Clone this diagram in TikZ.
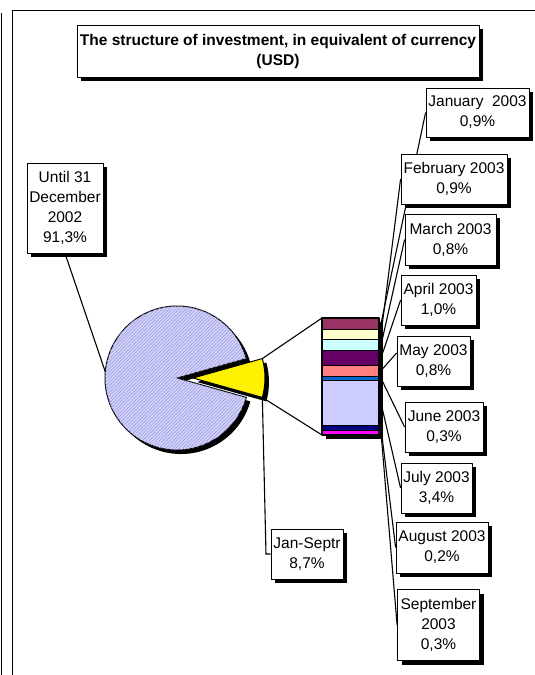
\documentclass[tikz,border=0pt]{standalone}
\usepackage{fontspec}
\setmainfont{Liberation Sans}
\usetikzlibrary{shadows,patterns.meta,backgrounds}
\definecolor{janc}{HTML}{993366}
\definecolor{febc}{HTML}{FFFFCC}
\definecolor{marc}{HTML}{CCFFFF}
\definecolor{aprc}{HTML}{660066}
\definecolor{mayc}{HTML}{FF8080}
\definecolor{junc}{HTML}{0066CC}
\definecolor{julc}{HTML}{CCCCFF}
\definecolor{augc}{HTML}{000080}
\definecolor{sepc}{HTML}{FF00FF}
\definecolor{piec}{HTML}{D4D4F6}
\definecolor{hatchc}{HTML}{9C9CE8}
\newcommand{\lblfont}{\fontsize{15.5}{20}\selectfont}
\begin{document}
\begin{tikzpicture}[x=1pt,y=-1pt,line join=round,line width=0.8pt,
	lbl/.style={draw,fill=white,align=center,inner sep=0pt,font=\lblfont,
		drop shadow={shadow xshift=4pt,shadow yshift=-4pt,opacity=1,fill=black}},
	piece/.style={draw,line width=1pt},
	leader/.style={draw,line width=1.1pt}]
	\useasboundingbox (0,0) rectangle (535,675);
	% Khung
	\draw (1.5,13) -- (1.5,675);
	\draw (12.5,675) -- (12.5,10.5) -- (535,10.5);
	% Bong cua hinh tron
	\begin{scope}[shift={(4,4)}]
		\fill (177,378) -- ++(15.65:72) arc[start angle=15.65,end angle=344.35,radius=72] -- cycle;
		\fill (193,378) -- ++(-15.65:72) arc[start angle=-15.65,end angle=15.65,radius=72] -- cycle;
	\end{scope}
	% Hinh tron
	\draw[piece,fill=piec,postaction={pattern={Lines[angle=45,distance=2.4pt,line width=0.6pt]},pattern color=hatchc}]
		(177,378) -- ++(15.65:72) arc[start angle=15.65,end angle=344.35,radius=72] -- cycle;
	\draw[piece,fill=yellow] (193,378) -- ++(-15.65:72) arc[start angle=-15.65,end angle=15.65,radius=72] -- cycle;
	\path (193,378) ++(-15.65:72) coordinate (ytop);
	\path (193,378) ++(15.65:72) coordinate (ybot);
	\path (177,378) ++(185:72) coordinate (pieleft);
	% Cot
	\fill (326,322) rectangle (383,439);
	\foreach \ya/\yb/\c [count=\n] in {318/329/janc,329/339.7/febc,339.7/350.7/marc,350.7/365/aprc,
		365/376.3/mayc,376.3/380.3/junc,380.3/425.7/julc,425.7/430/augc,430/435/sepc}
	{
		\draw[fill=\c] (322,\ya) rectangle (379,\yb);
		\coordinate (seg\n) at (381,{(\ya+\yb)/2});
	}
	\draw[line width=1.2pt] (322,318) coordinate (bartl) rectangle (379,435);
	\coordinate (barbl) at (322,435);
	\draw[leader] (ytop) -- (bartl);
	\draw[leader] (ybot) -- (barbl);
	% Nhan
	\node[lbl,font=\lblfont\bfseries,minimum width=402,minimum height=52] (title) at (278,51)
		{The structure of investment, in equivalent of currency\\(USD)};
	\node[lbl,minimum width=76,minimum height=90] (until) at (65,208) {Until 31\\December\\2002\\91,3\%};
	\node[lbl,minimum width=72,minimum height=50] (jansep) at (307,554) {Jan-Septr\\8,7\%};
	\node[lbl,minimum width=103,minimum height=49] (jan) at (477.5,112.5) {January\ \ 2003\\0,9\%};
	\node[lbl,minimum width=106,minimum height=50] (feb) at (454,179) {February 2003\\0,9\%};
	\node[lbl,minimum width=91,minimum height=51] (mar) at (450.5,239.5) {March 2003\\0,8\%};
	\node[lbl,minimum width=75,minimum height=50] (apr) at (438.5,300) {April 2003\\1,0\%};
	\node[lbl,minimum width=73,minimum height=50] (may) at (433.5,361) {May 2003\\0,8\%};
	\node[lbl,minimum width=78,minimum height=50] (jun) at (444,427) {June 2003\\0,3\%};
	\node[lbl,minimum width=71,minimum height=50] (jul) at (436.5,488) {July 2003\\3,4\%};
	\node[lbl,minimum width=92,minimum height=51] (aug) at (442,547.5) {August 2003\\0,2\%};
	\node[lbl,minimum width=82,minimum height=71] (sep) at (438.5,625) {September\\2003\\0,3\%};
	% Duong dan (nam duoi cac nhan)
	\begin{pgfonlayer}{background}
		\draw[leader] (until.south) -- (pieleft);
		\draw[leader] (ybot) -- (266,554) -- (jansep.west);
		\foreach \s/\t in {1/jan,2/feb,3/mar,4/apr,6/jun,7/jul,8/aug,9/sep}
			\draw[leader] (seg\s) -- (\t.west);
		\draw[leader] (seg5) -- ([yshift=8pt]may.west);
	\end{pgfonlayer}
\end{tikzpicture}
\end{document}
